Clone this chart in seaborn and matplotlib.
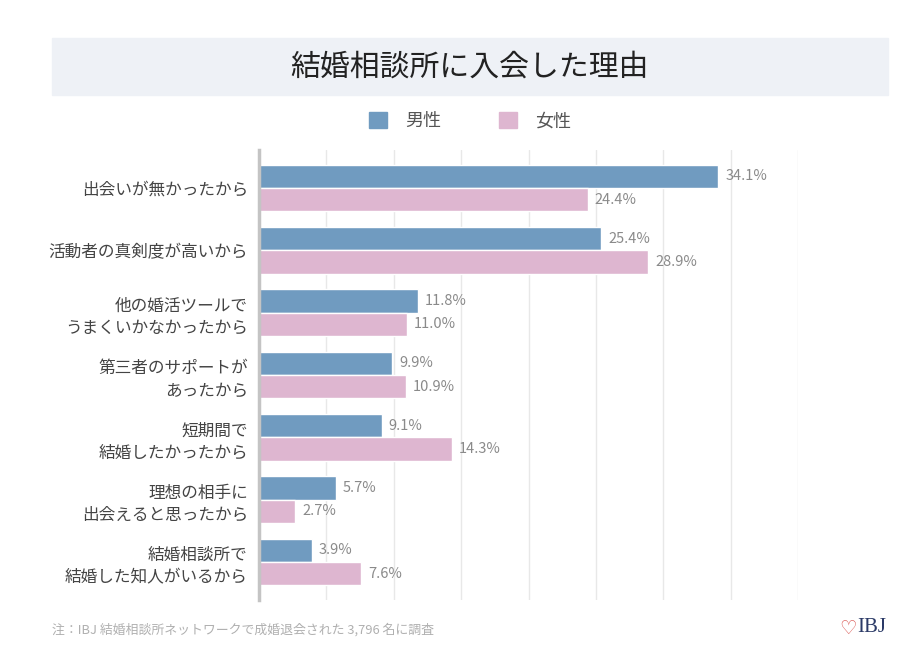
import pandas as pd
import seaborn as sns
from matplotlib import pyplot as plt
from matplotlib.patches import Rectangle, Patch

# data
reasons = [
    "出会いが無かったから",
    "活動者の真剣度が高いから",
    "他の婚活ツールで\nうまくいかなかったから",
    "第三者のサポートが\nあったから",
    "短期間で\n結婚したかったから",
    "理想の相手に\n出会えると思ったから",
    "結婚相談所で\n結婚した知人がいるから",
]
male = [34.1, 25.4, 11.8, 9.9, 9.1, 5.7, 3.9]
female = [24.4, 28.9, 11.0, 10.9, 14.3, 2.7, 7.6]
genders = ["男性", "女性"]
colors = ["#709bc0", "#deb6d0"]

df = pd.DataFrame({
    "reason": reasons * 2,
    "value": male + female,
    "gender": [genders[0]] * len(reasons) + [genders[1]] * len(reasons),
})

sns.set_style("white")
plt.rcParams["font.family"] = ["Noto Sans CJK JP", "DejaVu Sans"]

fig = plt.figure(figsize=(9.19, 6.58), dpi=100)
ax = fig.add_axes([259 / 919, 1 - 600 / 658, (798 - 259) / 919, 450 / 658])

sns.barplot(data=df, y="reason", x="value", hue="gender", orient="h",
            palette=colors, saturation=1, width=0.75, edgecolor="white",
            linewidth=1, legend=False, ax=ax, zorder=3)

ax.set_xlim(0, 40)
ax.set_ylim(6.61, -0.61)
ax.set_xticks(range(5, 41, 5))
ax.tick_params(axis="x", length=0, labelbottom=False)
ax.tick_params(axis="y", length=0, pad=8, labelsize=12, labelcolor="#444444")
ax.grid(axis="x", color="#e8e8e8", linewidth=1, zorder=0)
ax.set_xlabel("")
ax.set_ylabel("")
for s in ["top", "right", "bottom"]:
    ax.spines[s].set_visible(False)
ax.spines["left"].set_color("#c4c4c4")
ax.spines["left"].set_linewidth(2.5)
ax.spines["left"].set_zorder(4)
for t in ax.get_yticklabels():
    t.set_linespacing(1.4)

for c in ax.containers:
    ax.bar_label(c, fmt="%.1f%%", padding=5, fontsize=10.5, color="#8a8a8a")

# title band
fig.patches.append(Rectangle((52 / 919, 1 - 95 / 658), 836 / 919, 57 / 658,
                             transform=fig.transFigure, color="#eef1f6", zorder=0))
fig.text(470 / 919, 1 - 67 / 658, "結婚相談所に入会した理由", ha="center", va="center",
         fontsize=21.5, color="#222222")

handles = [Patch(color=colors[0]), Patch(color=colors[1])]
ax.legend(handles, genders, loc="center", bbox_to_anchor=(470 / 919, 1 - 121 / 658),
          bbox_transform=fig.transFigure, ncol=2, frameon=False, fontsize=13,
          handlelength=1.0, handleheight=1.0, columnspacing=3.2, handletextpad=1.0,
          labelcolor="#555555")

fig.text(52 / 919, 1 - 630 / 658, "注：IBJ 結婚相談所ネットワークで成婚退会された 3,796 名に調査",
         ha="left", va="center", fontsize=9.3, color="#b0b0b0")
fig.text(848 / 919, 1 - 628 / 658, "♡", ha="center", va="center", fontsize=14,
         color="#d9534f", family=["DejaVu Sans"])
fig.text(872 / 919, 1 - 628 / 658, "IBJ", ha="center", va="center", fontsize=15,
         color="#2b3a67", family=["Liberation Serif"])

fig.savefig("out.png", dpi=100)
